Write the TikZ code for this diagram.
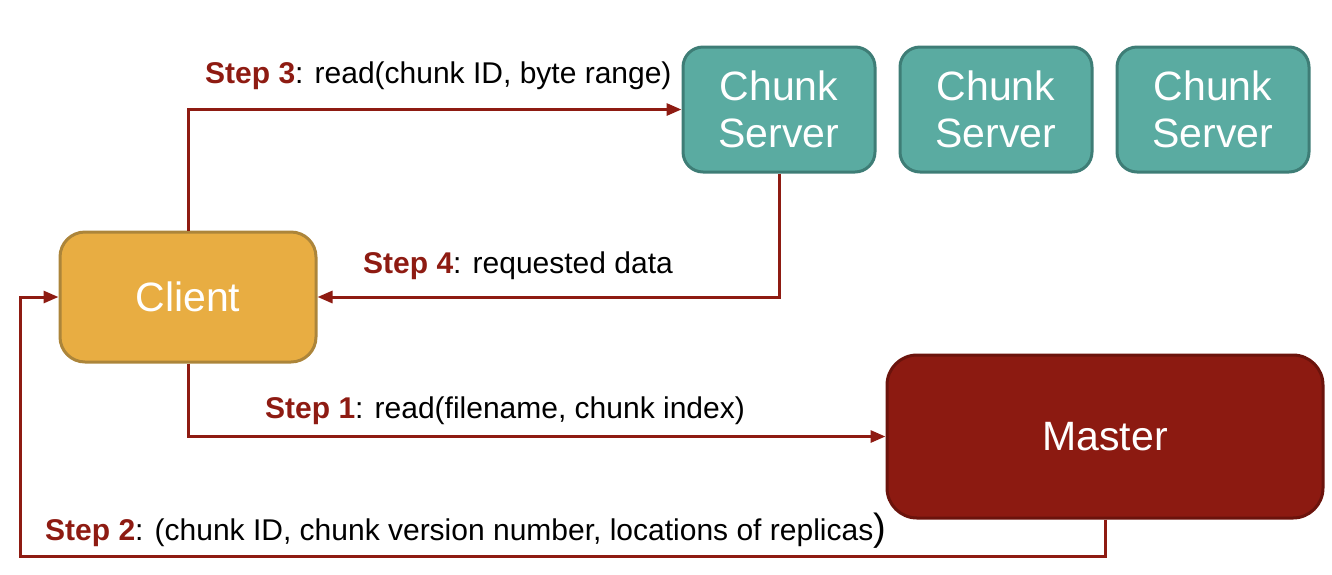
\documentclass[tikz,border=0pt]{standalone}
\usepackage{fontspec}
\setmainfont{Liberation Sans}
\usetikzlibrary{positioning}
\usetikzlibrary{arrows.meta}
\definecolor{chunkfill}{HTML}{5AABA1}
\definecolor{chunkline}{HTML}{3E7D76}
\definecolor{clientfill}{HTML}{E8AD42}
\definecolor{clientline}{HTML}{AC853A}
\definecolor{masterfill}{HTML}{8C1A11}
\definecolor{masterline}{HTML}{6B130C}
\definecolor{flowred}{HTML}{8E1B12}
\newcommand{\stepname}[1]{\textbf{\color{flowred}Step #1}}
\tikzset{box/.style={ % shared look of the boxes
			draw,
			line width=3pt,
			align=center,
			text=white,
			font=\fontsize{41}{47}\selectfont},
	chunkbox/.style={box, fill=chunkfill, draw=chunkline, rounded corners=20pt,
			minimum width=192pt, minimum height=125pt},
	flow/.style={draw=flowred, line width=3pt, -{Triangle[length=15pt,width=12pt]}},
	steplabel/.style={anchor=west, inner sep=0pt, font=\fontsize{30}{34}\selectfont}}

\begin{document}
\begin{tikzpicture}[x=1pt,y=-1pt]
			\useasboundingbox (0,0) rectangle (1332,574);
			\node [chunkbox] (CS1) at (779,109.5) {Chunk\\Server};
			\node [chunkbox, right=22pt of CS1] (CS2) {Chunk\\Server};
			\node [chunkbox, right=22pt of CS2] (CS3) {Chunk\\Server};
			\node [box, fill=clientfill, draw=clientline, rounded corners=25pt,
				minimum width=256pt, minimum height=130pt] (C) at (188,297) {Client};
			\node [box, fill=masterfill, draw=masterline, rounded corners=30pt,
				minimum width=436pt, minimum height=163pt] (M) at (1105,436.5) {Master};
			\coordinate (R) at (20,556);
			
			\draw [flow] (C.north) |- (CS1.west);
			\draw [flow] (CS1.south) |- (C.east);
			\draw [flow] (C.south) |- (M.west);
			\draw [flow] (M.south) |- (R) |- (C.west);
			
			\node [steplabel] (L3) at (205,76) {\stepname{3}: read(chunk ID, byte range)};
			\node [steplabel] (L4) at (363,266) {\stepname{4}: requested data};
			\node [steplabel] (L1) at (265,411) {\stepname{1}: read(filename, chunk index)};
			\node [steplabel] (L2) at (45,531) {\stepname{2}: (chunk ID, chunk version number, locations of replicas{\fontsize{38}{38}\selectfont )}};
		\end{tikzpicture}
\end{document}
